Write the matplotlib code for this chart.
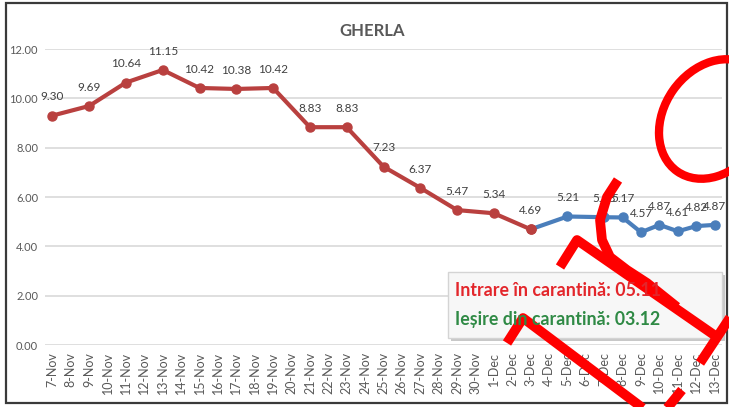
import matplotlib
matplotlib.use("Agg")
import matplotlib.pyplot as plt
from matplotlib.patches import Rectangle, Ellipse

# Chart data
days = ["7-Nov", "8-Nov", "9-Nov", "10-Nov", "11-Nov", "12-Nov", "13-Nov", "14-Nov",
        "15-Nov", "16-Nov", "17-Nov", "18-Nov", "19-Nov", "20-Nov", "21-Nov", "22-Nov",
        "23-Nov", "24-Nov", "25-Nov", "26-Nov", "27-Nov", "28-Nov", "29-Nov", "30-Nov",
        "1-Dec", "2-Dec", "3-Dec", "4-Dec", "5-Dec", "6-Dec", "7-Dec", "8-Dec",
        "9-Dec", "10-Dec", "11-Dec", "12-Dec", "13-Dec"]

red_days = ["7-Nov", "9-Nov", "11-Nov", "13-Nov", "15-Nov", "17-Nov", "19-Nov",
            "21-Nov", "23-Nov", "25-Nov", "27-Nov", "29-Nov", "1-Dec", "3-Dec"]
red_vals = [9.30, 9.69, 10.64, 11.15, 10.42, 10.38, 10.42,
            8.83, 8.83, 7.23, 6.37, 5.47, 5.34, 4.69]

blue_days = ["3-Dec", "5-Dec", "7-Dec", "8-Dec", "9-Dec", "10-Dec", "11-Dec", "12-Dec", "13-Dec"]
blue_vals = [4.69, 5.21, 5.18, 5.17, 4.57, 4.87, 4.61, 4.82, 4.87]

yticks = [0, 2, 4, 6, 8, 10, 12]
title = "GHERLA"
entry_text = "Intrare în carantină: 05.11"
exit_text = "Ieșire din carantină: 03.12"

W, H = 729, 407
fig = plt.figure(figsize=(W / 100, H / 100), dpi=100)
fig.patch.set_facecolor("white")

font = ["Lato", "DejaVu Sans"]

ax = fig.add_axes([45 / W, (H - 345) / H, 677 / W, 296 / H])
pos = {d: i for i, d in enumerate(days)}
rx = [pos[d] for d in red_days]
bx = [pos[d] for d in blue_days]

ax.plot(rx, red_vals, color="#b9403f", lw=3, marker="o", ms=6.5, zorder=3)
ax.plot(bx[1:], blue_vals[1:], color="#4a7ebb", lw=3, marker="o", ms=6.5, zorder=3)
ax.plot(bx[:2], blue_vals[:2], color="#4a7ebb", lw=3, zorder=2)
ax.plot(rx[-1], red_vals[-1], color="#b9403f", marker="o", ms=6.5, zorder=4)

for x, v in list(zip(rx, red_vals)) + list(zip(bx[1:], blue_vals[1:])):
    ax.annotate(f"{v:.2f}", (x, v), xytext=(0, 13.5), textcoords="offset points",
                ha="center", va="center", fontsize=8.5, color="#404040", family=font)

ax.set_xlim(-0.4, len(days) - 1 + 0.4)
ax.set_ylim(0, 12)
ax.set_yticks(yticks)
ax.set_yticklabels([f"{t:.2f}" for t in yticks], fontsize=8, color="#595959", family=font)
ax.set_xticks(range(len(days)))
ax.set_xticklabels(days, rotation=90, fontsize=9, color="#595959", family=font)
ax.tick_params(length=0, pad=5)
ax.grid(axis="y", color="#d9d9d9", lw=1.2)
ax.set_axisbelow(True)
for s in ax.spines.values():
    s.set_visible(False)

fig.text(372 / W, 1 - 31 / H, title, ha="center", va="center", fontsize=12,
         fontweight="bold", color="#595959", family=font)

# overlay in pixel coordinates: frame, note box and the hand-drawn scribble
ov = fig.add_axes([0, 0, 1, 1], facecolor="none")
ov.set_xlim(0, W)
ov.set_ylim(H, 0)
ov.axis("off")

ov.add_patch(Rectangle((6, 3), 721, 400, fill=False, ec="#3a3a3a", lw=1.6))
ov.add_patch(Rectangle((451, 275), 274, 66, fc="#c8c8c8", ec="none"))
ov.add_patch(Rectangle((448, 272), 274, 66, fc="#f7f7f7", ec="#d4d4d4", lw=1))
ov.text(455, 290, entry_text, ha="left", va="center", fontsize=12.8, fontweight="bold",
        color="#e3262b", family=font)
ov.text(455, 320, exit_text, ha="left", va="center", fontsize=12.8, fontweight="bold",
        color="#2f8a45", family=font)

# red marker scribble drawn over the chart
strokes = [
    [(560, 267), (577, 240), (717, 337)],
    [(700, 363), (735, 310)],
    [(507, 343), (523, 318), (648, 412)],
    [(682, 390), (664, 412)],
    [(618, 180), (607, 197), (600, 220), (602, 240), (610, 257), (627, 270), (647, 283), (677, 307)],
]
for st in strokes:
    xs, ys = zip(*st)
    ov.plot(xs, ys, color="#ff0000", lw=7, solid_capstyle="butt", solid_joinstyle="round")
ov.add_patch(Ellipse((714, 119), 128, 100, angle=-55, fill=False, ec="#ff0000", lw=6))

fig.savefig("out.png", dpi=100)
